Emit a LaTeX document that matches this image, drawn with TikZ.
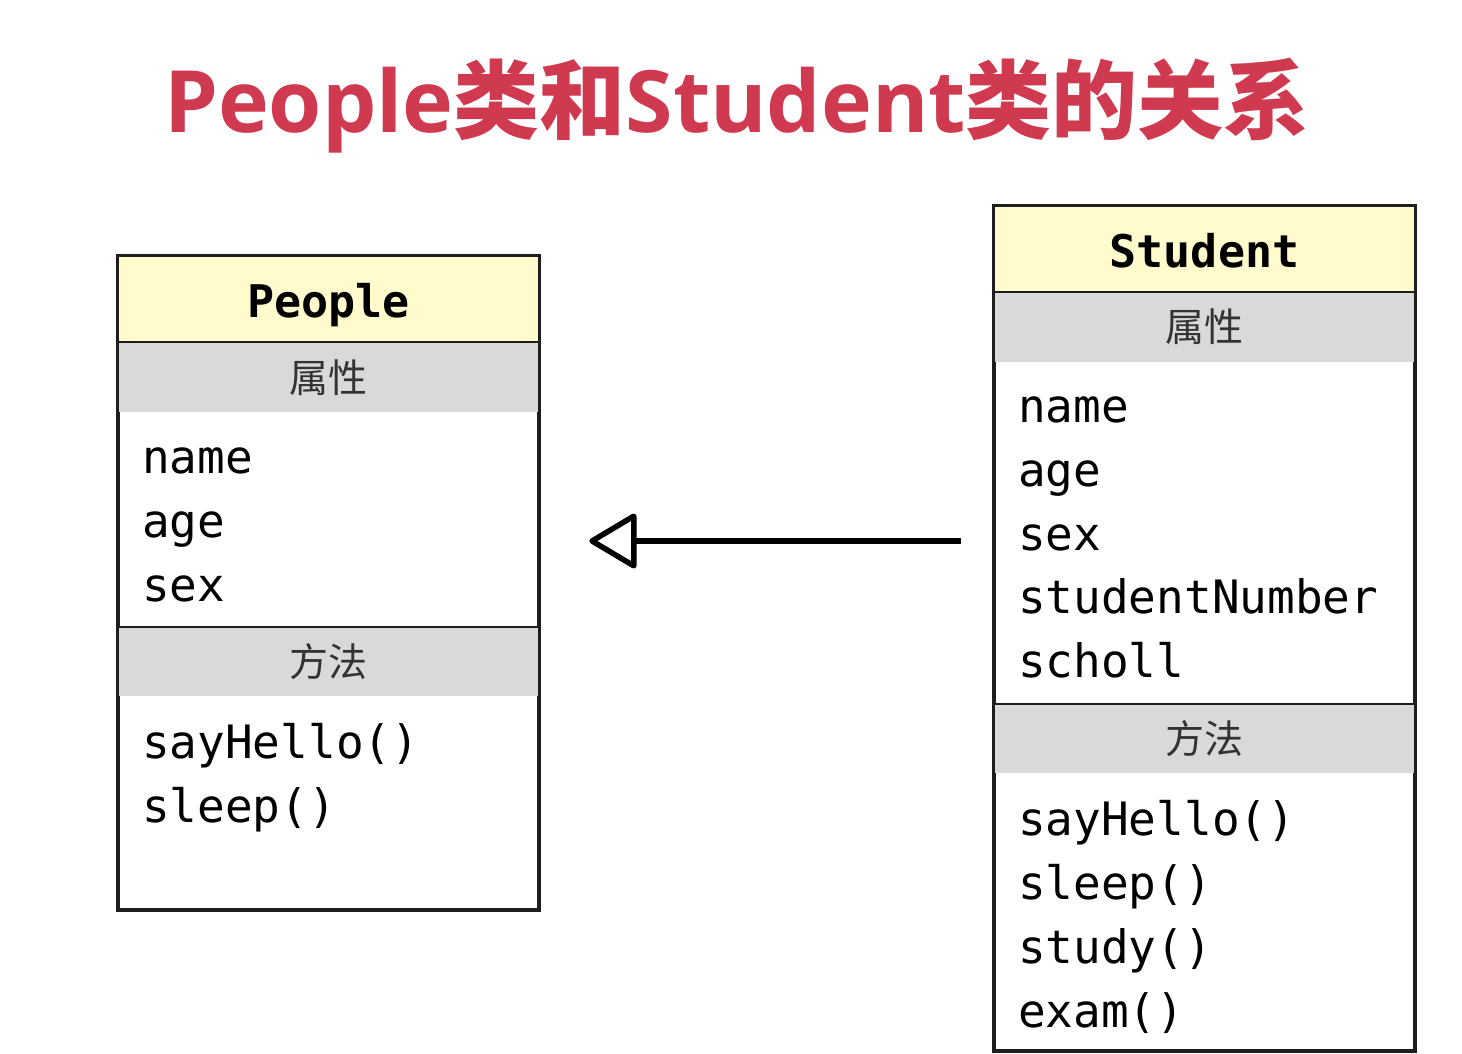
\documentclass[tikz,border=0pt]{standalone}
\usepackage{fontspec}
\setmonofont{DejaVu Sans Mono}
\newfontfamily\cjk{Noto Sans CJK SC}
\newfontfamily\titlelatin{Open Sans}
\usetikzlibrary{arrows.meta}
\definecolor{titlered}{HTML}{D03A50}
\definecolor{headyellow}{HTML}{FFFBCC}
\definecolor{bandgray}{HTML}{D9D9D9}
\definecolor{framegray}{HTML}{1E1E1E}
\tikzset{
  umlframe/.style={draw=framegray, line width=2.6pt, fill=white, inner sep=0pt},
  umlhead/.style={fill=headyellow},
  umlband/.style={fill=bandgray},
  umlrule/.style={draw=framegray, line width=2.6pt},
  umlname/.style={font=\ttfamily\bfseries\fontsize{45}{50}\selectfont, anchor=mid, inner sep=0pt},
  umlsec/.style={font=\cjk\fontsize{39}{44}\selectfont, text=black!80, inner sep=0pt},
  umlitem/.style={font=\ttfamily\fontsize{46}{64}\selectfont, anchor=mid west, inner sep=0pt},
  extends/.style={line width=5.5pt, -{Triangle[open, fill=white, length=50pt, width=58pt, round]}},
}
\begin{document}
\begin{tikzpicture}[x=1pt, y=-1pt]
\useasboundingbox (0,0) rectangle (1462,1054);
% title
\node[anchor=base, inner sep=0pt, text=titlered, font=\bfseries\fontsize{86}{96}\selectfont] (title) at (737,133)
  {\titlelatin People\cjk 类和\titlelatin Student\cjk 类的关系};
% class People
\node[umlframe, minimum width=419pt, minimum height=652pt] (people) at (328.5,583) {};
\fill[umlhead] (119,257) rectangle (538,341);
\fill[umlband] (119,343) rectangle (538,412);
\fill[umlband] (119,628) rectangle (538,696);
\draw[umlrule] (119,342) -- (538,342);
\draw[umlrule] (119,627) -- (538,627);
\draw[umlframe, fill=none] (people.north west) rectangle (people.south east);
\node[umlname] (peoplename) at (328.5,315) {People};
\node[umlsec] (peopleattr) at (328.5,378) {属性};
\node[umlsec] (peoplemeth) at (328.5,662) {方法};
\node[umlitem] (pname) at (142,471) {name};
\node[umlitem] (page) at (142,535) {age};
\node[umlitem] (psex) at (142,599) {sex};
\node[umlitem] (phello) at (142,756) {sayHello()};
\node[umlitem] (psleep) at (142,820) {sleep()};
% class Student
\node[umlframe, minimum width=419pt, minimum height=843pt] (student) at (1204.5,628.5) {};
\fill[umlhead] (995,207) rectangle (1414,291);
\fill[umlband] (995,293) rectangle (1414,362);
\fill[umlband] (995,705) rectangle (1414,773);
\draw[umlrule] (995,292) -- (1414,292);
\draw[umlrule] (995,704) -- (1414,704);
\draw[umlframe, fill=none] (student.north west) rectangle (student.south east);
\node[umlname] (studentname) at (1204.5,265) {Student};
\node[umlsec] (studentattr) at (1204.5,327) {属性};
\node[umlsec] (studentmeth) at (1204.5,739) {方法};
\node[umlitem] (sname) at (1018,420) {name};
\node[umlitem] (sage) at (1018,484) {age};
\node[umlitem] (ssex) at (1018,548) {sex};
\node[umlitem] (snumber) at (1018,611) {studentNumber};
\node[umlitem] (sscholl) at (1018,675) {scholl};
\node[umlitem] (shello) at (1018,833) {sayHello()};
\node[umlitem] (ssleep) at (1018,897) {sleep()};
\node[umlitem] (sstudy) at (1018,961) {study()};
\node[umlitem] (sexam) at (1018,1025) {exam()};
% inheritance
\coordinate (arrowtail) at ([xshift=-33pt]student.west |- 0,541);
\coordinate (arrowhead) at ([xshift=50pt]people.east |- 0,541);
\draw[extends] (arrowtail) -- (arrowhead);
\end{tikzpicture}
\end{document}
